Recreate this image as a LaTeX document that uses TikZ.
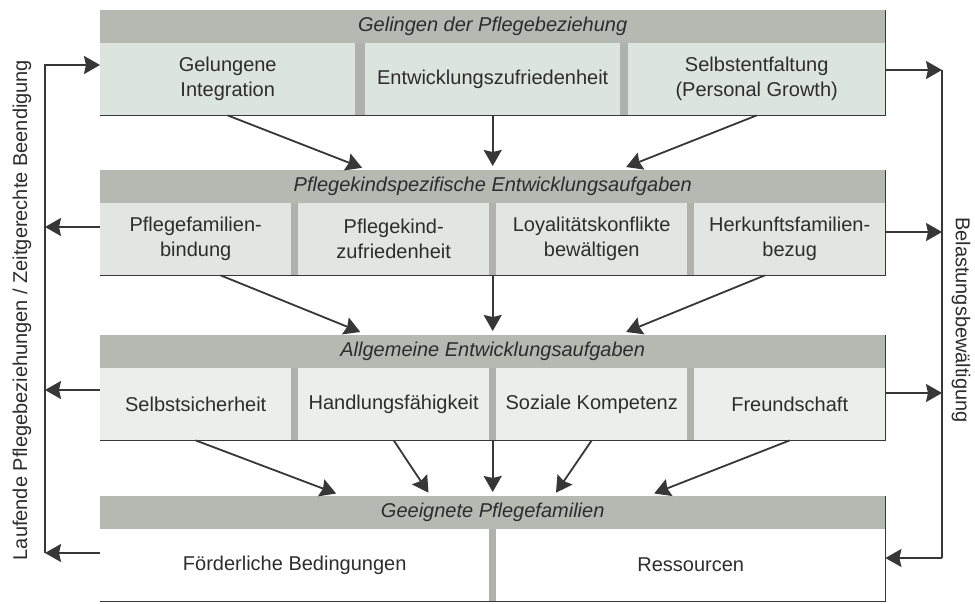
\documentclass[tikz,border=0pt]{standalone}
\usepackage{fontspec}
\setmainfont{Liberation Sans}
\usepackage{tikz}
\usetikzlibrary{arrows.meta}
\usetikzlibrary{positioning}
\usetikzlibrary{calc}

\definecolor{hdrgray}{RGB}{181,185,177}
\definecolor{sepgray}{RGB}{174,178,171}
\definecolor{cellA}{RGB}{219,228,221}
\definecolor{cellB}{RGB}{225,230,226}
\definecolor{cellC}{RGB}{236,238,235}
\definecolor{inkgray}{RGB}{45,45,45}
\definecolor{linegray}{RGB}{55,55,55}

\tikzset{
  box/.style={fill=sepgray, minimum width=785pt, minimum height=105pt, anchor=north west, inner sep=0pt},
  header/.style={fill=hdrgray, minimum width=785pt, minimum height=33pt, anchor=north west, inner sep=0pt, font=\fontsize{20}{24}\selectfont\itshape, text=inkgray},
  cell/.style={minimum height=72pt, anchor=north west, inner sep=0pt, align=center, font=\fontsize{20}{25}\selectfont, text=inkgray},
  frame/.style={linegray, line width=1.8pt},
  arr/.style={linegray, line width=1.8pt, -{Stealth[length=16pt,width=18pt,inset=2pt]}},
  side/.style={font=\fontsize{20}{24}\selectfont, text=inkgray}
}

\begin{document}
\begin{tikzpicture}[x=1pt, y=-1pt]
    \useasboundingbox[fill=white] (0,0) rectangle (975,603);

    \node[box] (b1) at (100,10) {};
    \node[header] (h1) at (100,10) {Gelingen der Pflegebeziehung};
    \node[cell, fill=cellA, minimum width=255pt] (c11) at (100,43) {Gelungene\\Integration};
    \node[cell, fill=cellA, minimum width=255pt] (c12) at (365,43) {Entwicklungszufriedenheit};
    \node[cell, fill=cellA, minimum width=257pt] (c13) at (628,43) {Selbstentfaltung\\(Personal Growth)};
    \draw[frame] (b1.south west) -- (b1.south east) -- (b1.north east);

    \node[box] (b2) at (100,170) {};
    \node[header] (h2) at (100,170) {Pflegekindspezifische Entwicklungsaufgaben};
    \node[cell, fill=cellB, minimum width=191pt] (c21) at (100,203) {Pflegefamilien-\\bindung};
    \node[cell, fill=cellB, minimum width=191pt] (c22) at (298,203) {Pflegekind-\\zufriedenheit};
    \node[cell, fill=cellB, minimum width=191pt] (c23) at (496,203) {Loyalitätskonflikte\\bewältigen};
    \node[cell, fill=cellB, minimum width=191pt] (c24) at (694,203) {Herkunftsfamilien-\\bezug};
    \draw[frame] (b2.south west) -- (b2.south east) -- (b2.north east);

    \node[box] (b3) at (100,335) {};
    \node[header] (h3) at (100,335) {Allgemeine Entwicklungsaufgaben};
    \node[cell, fill=cellC, minimum width=191pt] (c31) at (100,368) {Selbstsicherheit};
    \node[cell, fill=cellC, minimum width=191pt] (c32) at (298,368) {Handlungsfähigkeit};
    \node[cell, fill=cellC, minimum width=191pt] (c33) at (496,368) {Soziale Kompetenz};
    \node[cell, fill=cellC, minimum width=191pt] (c34) at (694,368) {Freundschaft};
    \draw[frame] (b3.south west) -- (b3.south east) -- (b3.north east);

    \node[box] (b4) at (100,496) {};
    \node[header] (h4) at (100,496) {Geeignete Pflegefamilien};
    \node[cell, fill=white, minimum width=389pt] (c41) at (100,529) {Förderliche Bedingungen};
    \node[cell, fill=white, minimum width=389pt] (c42) at (496,529) {Ressourcen};
    \draw[frame] (b4.south west) -- (b4.south east) -- (b4.north east);

    \draw[arr, shorten >=6pt] (c11.south) -- ([xshift=-125pt]h2.north);
    \draw[arr, shorten >=4pt] (b1.south) -- (h2.north);
    \draw[arr, shorten >=8pt] (c13.south) -- ([xshift=126pt]h2.north);

    \draw[arr, shorten >=8pt] ([xshift=25pt]c21.south) -- ([xshift=-125pt]h3.north);
    \draw[arr, shorten >=4pt] (b2.south) -- (h3.north);
    \draw[arr, shorten >=8pt] ([xshift=-25pt]c24.south) -- ([xshift=126pt]h3.north);

    \draw[arr, shorten >=7pt] (c31.south) -- ([xshift=-150pt]h4.north);
    \draw[arr, shorten >=4pt] (c32.south) -- ([xshift=-62pt]h4.north);
    \draw[arr, shorten >=4pt] (b3.south) -- (h4.north);
    \draw[arr, shorten >=4pt] (c33.south) -- ([xshift=61pt]h4.north);
    \draw[arr, shorten >=7pt] (c34.south) -- ([xshift=155pt]h4.north);

    \coordinate (l1) at (45,65);
    \coordinate (l2) at (45,227);
    \coordinate (l3) at (45,390);
    \coordinate (l4) at (45,553);
    \draw[arr] (l4) -- (l1) -- (c11.west |- l1);
    \draw[arr] (c21.west |- l2) -- (l2);
    \draw[arr] (c31.west |- l3) -- (l3);
    \draw[arr] (c41.west |- l4) -- (l4);

    \coordinate (r1) at (942,70);
    \coordinate (r2) at (942,232);
    \coordinate (r3) at (942,393);
    \coordinate (r4) at (942,558);
    \draw[arr] (c13.east |- r1) -- (r1);
    \draw[arr] (c24.east |- r2) -- (r2);
    \draw[arr] (c34.east |- r3) -- (r3);
    \draw[frame] (r1) -- (r4);
    \draw[arr] (r4) -- (c42.east |- r4);

    \node[side, rotate=90] (lauf) at (22,310) {Laufende Pflegebeziehungen / Zeitgerechte Beendigung};
    \node[side, rotate=-90] (belast) at (961,320) {Belastungsbewältigung};
\end{tikzpicture}
\end{document}
